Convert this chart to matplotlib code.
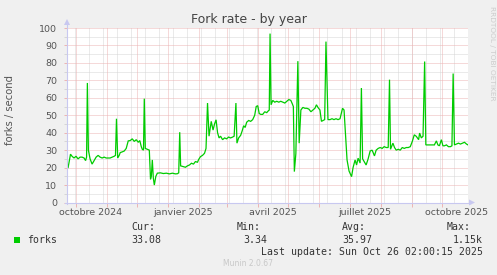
import matplotlib
matplotlib.use("Agg")
import matplotlib.pyplot as plt
import matplotlib.dates as mdates
from matplotlib.patches import Rectangle, Polygon
import numpy as np
import datetime as dt

# ---------------- data ----------------
title = "Fork rate - by year"
ylabel = "forks / second"
series_name = "forks"
start_date = dt.datetime(2024, 9, 22, 12, 0)
end_date = dt.datetime(2025, 10, 27, 0, 0)

# days since start_date
days = [0, 1, 3.5, 5, 7, 9, 11, 13, 15, 17, 18.5, 19.5, 20.3, 21.3, 23, 25, 27, 29, 31, 33,
        35, 37, 39, 41, 43, 45, 47, 48.3, 49.3, 50.5, 52, 53, 55, 57, 59, 61, 63, 65, 67,
        69, 71, 72.5, 74, 75, 76.2, 77, 78, 80, 82, 83.2, 84, 85, 86, 87, 88.5, 90, 93, 96,
        99, 102, 105, 108, 110, 111.3, 112.3, 113.2, 116, 118, 120, 122, 124, 126, 128, 130,
        131, 133, 135, 137, 138.5, 140, 141.5, 143.7, 145.5, 147, 148.5, 150, 151.5, 153,
        155, 157, 159, 161, 163, 165, 166.5, 168.3, 169.3, 171, 173, 174.5, 176, 177.5, 179,
        181, 183, 185, 187, 188.5, 190, 191.5, 193, 195, 197, 199, 200.5, 201.5, 202.3,
        203.3, 205, 207, 209, 211, 213, 215, 217, 219, 221, 223, 224.5, 225.5, 226.5, 228,
        230, 231.3, 233, 235, 237, 239, 241, 243, 245, 247, 248.5, 250, 252, 253.5, 255,
        256.7, 258, 260, 262, 264, 266, 268, 270, 272, 274.5, 276, 279, 281, 283.5, 285,
        287, 288.5, 290, 292, 293.3, 294.5, 296, 298, 300, 302, 304, 306.3, 308, 310, 312,
        314, 316, 318, 320, 321.3, 322.3, 324.7, 326.3, 328, 330, 332, 334, 336, 338, 340,
        342, 344, 346, 348, 350.3, 351.3, 353, 354.7, 356.3, 357.5, 360, 363, 366, 368,
        369.5, 371, 373, 374.5, 376, 378, 380, 382, 383.5, 384.7, 386, 388, 390, 392, 394,
        396, 398, 399.5]
forks = [23.5, 19.7, 27.7, 26.5, 25.5, 26.5, 25, 26, 26, 25.5, 24, 26, 68.5, 30, 25, 22,
         24, 26, 27, 26, 25.5, 26, 25.5, 25.5, 25.5, 26, 26.5, 27, 48, 25.5, 27, 28.6, 29,
         29.5, 31, 35.3, 35.5, 36.5, 35, 36, 34.5, 35.5, 32, 30.5, 30, 59.5, 31, 30.5, 30,
         13.3, 15, 24.4, 14, 10, 15, 16.8, 17, 16.6, 16.8, 16.4, 16.8, 16.4, 16.5, 17, 40.3,
         21, 20.5, 20.2, 21, 21.5, 22.5, 22, 23.5, 23, 24.5, 26.3, 27, 28.2, 31, 57, 38,
         46.5, 41.5, 45, 47.4, 40, 37, 38, 36, 37, 36.5, 37.5, 37, 37.5, 38, 57, 34, 37,
         38.5, 41, 44, 43, 46, 47, 46.5, 47.5, 50, 55, 55.5, 51, 50.5, 50.5, 52, 51.5, 52.5,
         53, 96.8, 56, 58.5, 57.5, 58, 57.5, 58, 57.5, 57, 58, 59, 58.5, 56.5, 55, 17.7,
         28, 81, 34, 53, 54.5, 54, 54, 53.5, 52, 53, 54, 56, 54.5, 53, 46.5, 47, 47.5, 92.2,
         47.5, 47.5, 48, 47.5, 48, 47.5, 48, 54, 53, 24.4, 18, 14.8, 20, 24.4, 21.5, 25.4,
         22.6, 65.6, 25, 23.5, 21.5, 25, 29.5, 30, 26.7, 30, 31, 31.5, 31, 32, 31.5, 31.5,
         70.4, 30.5, 34, 31.5, 30, 30.5, 30, 31.5, 31, 31.5, 31.5, 32, 35, 38.8, 37.9, 36,
         39.8, 37, 38, 80.8, 33, 33, 33, 33, 35.3, 33, 32.5, 36, 32.5, 32.5, 33, 32, 32,
         32.5, 73.9, 33, 33.5, 34, 33.5, 34, 34.5, 33.5, 33]

month_labels = ["octobre 2024", "janvier 2025", "avril 2025", "juillet 2025", "octobre 2025"]
month_label_dates = [dt.datetime(2024, 10, 16), dt.datetime(2025, 1, 16), dt.datetime(2025, 4, 16),
                     dt.datetime(2025, 7, 16), dt.datetime(2025, 10, 16)]
legend_heads = ["Cur:", "Min:", "Avg:", "Max:"]
legend_vals = ["33.08", "3.34", "35.97", "1.15k"]
last_update = "Last update: Sun Oct 26 02:00:15 2025"
footer = "Munin 2.0.67"
watermark = "RRDTOOL / TOBI OETIKER"

# ---------------- figure ----------------
W, H = 497, 275
BG = "#F0F0F0"
GREEN = "#00CC00"
MGRID = "#EDB4B4"
MINGRID = "#D6D6D6"
AXIS = "#C8C8F0"
TXT = "#555555"

fig = plt.figure(figsize=(W / 100, H / 100), dpi=100, facecolor=BG)
L, R, T, B = 67, 468, 28, 202.5
ax = fig.add_axes([L / W, 1 - B / H, (R - L) / W, (B - T) / H])
ax.set_facecolor("white")

xs = [mdates.date2num(start_date + dt.timedelta(days=d)) for d in days]
x0, x1 = mdates.date2num(start_date), mdates.date2num(end_date)
ax.set_xlim(x0, x1)
ax.set_ylim(0, 100)

for s in ax.spines.values():
    s.set_visible(False)

# grid
dash = (0, (1, 1))
gkw = dict(lw=0.72, ls=dash)
for v in range(5, 100, 10):
    ax.axhline(v, color=MINGRID, zorder=1, **gkw)
# minor vertical every two weeks (Mondays)
d = dt.datetime(2024, 9, 30)
while d < end_date:
    ax.axvline(mdates.date2num(d), color=MINGRID, zorder=1, **gkw)
    d += dt.timedelta(days=14)
for v in range(10, 101, 10):
    ax.axhline(v, color=MGRID, zorder=2, **gkw)
month_starts = []
y, m = 2024, 10
while dt.datetime(y, m, 1) < end_date:
    month_starts.append(dt.datetime(y, m, 1))
    m += 1
    if m > 12:
        m, y = 1, y + 1
for ms in month_starts:
    ax.axvline(mdates.date2num(ms), color=MGRID, zorder=2, **gkw)

# ticks
ax.set_yticks(range(0, 101, 10))
ax.set_yticklabels([str(v) for v in range(0, 101, 10)])
ax.set_yticks(range(5, 100, 10), minor=True)
ax.tick_params(axis="y", which="major", length=2.5, width=0.7, color=MGRID, labelsize=6.8,
               labelcolor=TXT, pad=4.5)
ax.tick_params(axis="y", which="minor", length=2, width=0.7, color=MINGRID)
ax.set_xticks([mdates.date2num(ms) for ms in month_starts])
ax.set_xticklabels([])
ax.tick_params(axis="x", which="major", length=3, width=0.7, color=MGRID)

for lab, ld in zip(month_labels, month_label_dates):
    ax.text(mdates.date2num(ld), -9.7 / (B - T), lab, transform=ax.get_xaxis_transform(),
            ha="center", va="center", fontsize=6.8, color=TXT)

# data
ax.plot(xs, forks, color=GREEN, lw=0.9, zorder=5, solid_joinstyle="miter")

# axes lines and arrows (figure pixel coords)
def fx(px):
    return px / W

def fy(py):
    return 1 - py / H

fig.add_artist(plt.Line2D([fx(L), fx(L)], [fy(B + 1), fy(T - 4)], color=AXIS, lw=0.8))
fig.add_artist(plt.Line2D([fx(L - 2), fx(R + 2)], [fy(B), fy(B)], color=AXIS, lw=0.8))
fig.add_artist(Polygon([[fx(L - 3), fy(T - 3)], [fx(L + 3), fy(T - 3)], [fx(L), fy(T - 9)]],
                       closed=True, color=AXIS, lw=0))
fig.add_artist(Polygon([[fx(R + 1), fy(B - 3)], [fx(R + 1), fy(B + 3)], [fx(R + 7), fy(B)]],
                       closed=True, color=AXIS, lw=0))

# titles
fig.text(fx(248.5), fy(19.5), title, ha="center", va="center", fontsize=9, color="#444444")
fig.text(fx(10.5), fy(110), ylabel, ha="center", va="center", rotation=90, fontsize=7.2,
         color=TXT)
fig.text(fx(492), fy(53), watermark, ha="center", va="center", rotation=270, fontsize=5.3,
         color="#CCCCCC")

# legend
MONO = "DejaVu Sans Mono"
LEG = "#333333"
fig.add_artist(Rectangle((fx(14), fy(243)), 6 / W, 6 / H, color=GREEN, lw=0))
fig.text(fx(26.7), fy(240), series_name, ha="left", va="center", fontsize=7.15, family=MONO,
         color=LEG)
head_x = [131, 237, 342, 447]
val_x = [131, 243, 342, 453]
for hx, h in zip(head_x, legend_heads):
    fig.text(fx(hx), fy(227), h, ha="left", va="center", fontsize=7.15, family=MONO, color=LEG)
for vx, v in zip(val_x, legend_vals):
    fig.text(fx(vx), fy(240), v, ha="left", va="center", fontsize=7.15, family=MONO, color=LEG)
fig.text(fx(483), fy(251.7), last_update, ha="right", va="center", fontsize=7.15, family=MONO,
         color=LEG)
fig.text(fx(248), fy(264), footer, ha="center", va="center", fontsize=5.5, color="#C8C8C8")

fig.savefig("out.png", dpi=100, facecolor=BG)
